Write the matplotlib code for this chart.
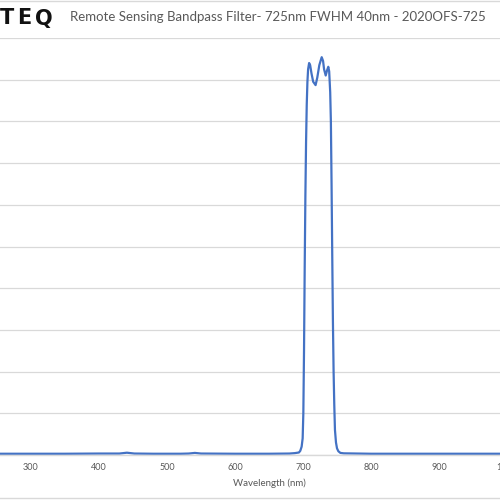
import matplotlib
matplotlib.use("Agg")
import matplotlib.pyplot as plt

wavelength = [200, 250, 300, 350, 400, 430, 441, 452, 480, 520, 532, 541, 550, 600, 650, 680,
              688, 694, 696, 698, 699.5, 700.5, 701.5, 702.5, 703.5, 704.5, 705.5, 706.5,
              707.5, 709, 710.5, 712.5, 715, 718.5, 721, 724, 727.5, 729.5, 731, 733.4,
              735.5, 737.2, 738.5, 740, 741, 742, 743, 744, 745, 746, 747, 748.5, 750,
              752, 755, 760, 800, 850, 900, 950, 1000, 1050, 1100]
transmission = [0.3, 0.3, 0.3, 0.3, 0.35, 0.35, 0.55, 0.35, 0.3, 0.3, 0.35, 0.5, 0.35, 0.3, 0.3, 0.35,
                0.45, 0.6, 1.0, 2.0, 4, 10, 25, 45, 62, 75, 84, 89.5,
                92.5, 94.0, 93.5, 91.5, 89.5, 88.7, 90.5, 93.5, 95.4, 94.5, 92.5, 91.0,
                92.3, 93.1, 92.0, 87, 80, 65, 48, 32, 20, 12, 6, 3, 1.6,
                0.9, 0.5, 0.4, 0.3, 0.3, 0.3, 0.3, 0.3, 0.3, 0.3]

x_ticks = [200, 300, 400, 500, 600, 700, 800, 900, 1000, 1100]
y_ticks = [0, 10, 20, 30, 40, 50, 60, 70, 80, 90, 100]

title = "Remote Sensing Bandpass Filter- 725nm FWHM 40nm - 2020OFS-725"
logo = "TEQ"
x_label = "Wavelength (nm)"

fig = plt.figure(figsize=(5, 5), dpi=100)
fig.patch.set_facecolor("white")

# axes extends beyond the figure on both sides (reference is a crop)
ax = fig.add_axes([-37/500, 1 - 455/500, 612/500, (455 - 38)/500])
ax.plot(wavelength, transmission, color="#4472C4", lw=1.6, solid_joinstyle="round")
ax.set_xlim(200, 1100)
ax.set_ylim(0, 100)
ax.set_xticks(x_ticks)
ax.set_yticks(y_ticks)
ax.set_yticklabels([])
ax.tick_params(axis="y", length=0)
ax.tick_params(axis="x", length=0, labelsize=6.5, labelcolor="#595959", pad=5.5)
for lab in ax.get_xticklabels():
    lab.set_family("Lato")
ax.grid(axis="y", color="#D9D9D9", lw=0.9)
ax.set_axisbelow(True)
for s in ["top", "left", "right"]:
    ax.spines[s].set_visible(False)
ax.spines["bottom"].set_color("#D9D9D9")
ax.spines["bottom"].set_linewidth(1.0)
ax.set_xlabel(x_label, fontsize=7, color="#595959", family="Lato", labelpad=5)

fig.text(277.5/500, 1 - 17/500, title, ha="center", va="center", fontsize=9.5,
         color="#595959", family="Lato")
# logo letters placed individually to match the wide lettering
for ch, xc in zip(logo, [7.5, 24.5, 43.5]):
    fig.text(xc/500, 1 - 24.5/500, ch, ha="center", va="baseline", fontsize=15,
             color="#111111", family="DejaVu Sans", weight="heavy")

# chart border lines
fig.add_artist(plt.Line2D([0, 1], [1 - 1/500, 1 - 1/500], color="#D9D9D9", lw=1, transform=fig.transFigure))
fig.add_artist(plt.Line2D([0, 1], [1 - 498/500, 1 - 498/500], color="#D9D9D9", lw=1, transform=fig.transFigure))

fig.savefig("out.png", dpi=100)
